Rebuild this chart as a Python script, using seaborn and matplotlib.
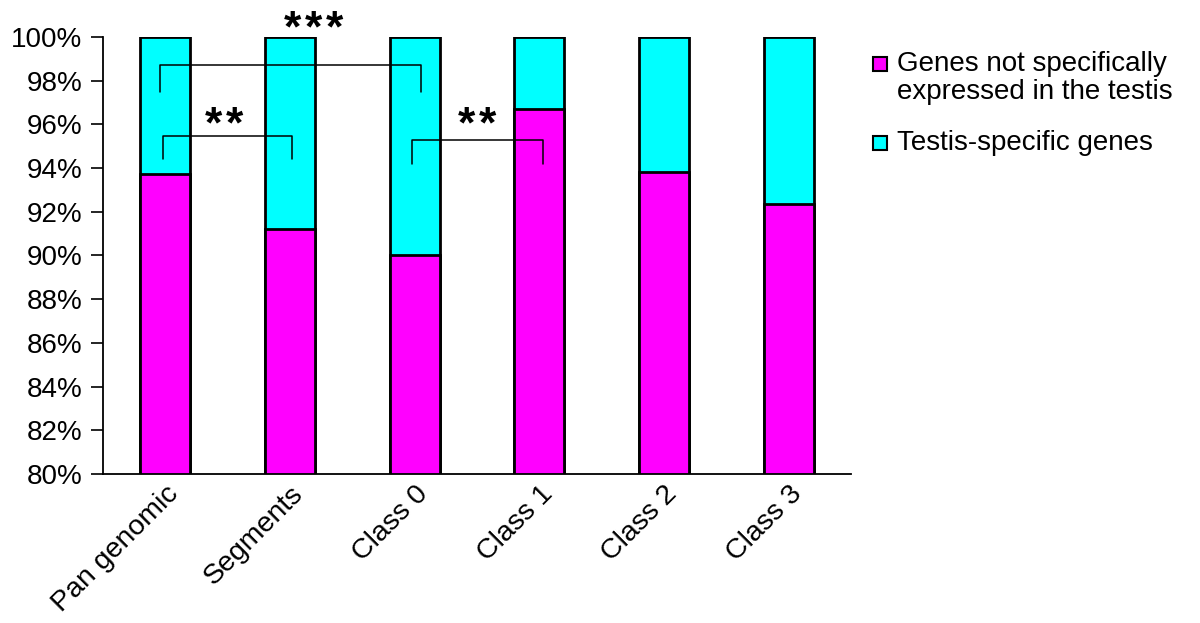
import matplotlib
matplotlib.use("Agg")
import matplotlib.pyplot as plt
from matplotlib.patches import Rectangle
import seaborn as sns
import pandas as pd

# values (percent of genes)
categories = ["Pan genomic", "Segments", "Class 0", "Class 1", "Class 2", "Class 3"]
not_specific = [93.75, 91.2, 90.0, 96.7, 93.8, 92.35]
testis_specific = [6.25, 8.8, 10.0, 3.3, 6.2, 7.65]
series_labels = ["Genes not specifically\nexpressed in the testis", "Testis-specific genes"]
y_ticks = [80, 82, 84, 86, 88, 90, 92, 94, 96, 98, 100]

# significance brackets: (x left, x right, top, leg bottom, n stars, star x, star y)
brackets = [
    (-0.04, 2.05, 98.7, 97.5, 3, 1.19, 99.8),
    (-0.02, 1.02, 95.47, 94.4, 2, 0.47, 95.4),
    (1.98, 3.03, 95.27, 94.2, 2, 2.5, 95.4),
]
STAR_STEP = 0.168  # spacing between stars, in category units

MAGENTA = "#FF00FF"
CYAN = "#00FFFF"

sns.set_style("white")
plt.rcParams["font.family"] = ["Liberation Sans", "DejaVu Sans"]
plt.rcParams["text.color"] = "black"
plt.rcParams["xtick.color"] = "black"
plt.rcParams["ytick.color"] = "black"

df = pd.DataFrame({"category": categories,
                   "not_specific": not_specific,
                   "testis_specific": testis_specific})
df["total"] = df["not_specific"] + df["testis_specific"]

fig = plt.figure(figsize=(12, 6.23), dpi=100)
ax = fig.add_axes([103 / 1200, 1 - 474 / 623, (851 - 103) / 1200, (474 - 37) / 623])

# full stack first (cyan), then bottom segment on top of it (magenta)
sns.barplot(data=df, x="category", y="total", color=CYAN, width=0.4,
            edgecolor="black", linewidth=2, saturation=1, ax=ax)
sns.barplot(data=df, x="category", y="not_specific", color=MAGENTA, width=0.4,
            edgecolor="black", linewidth=2, saturation=1, ax=ax)

ax.set_ylim(80, 100)
ax.set_xlim(-0.5, len(categories) - 0.5)
ax.set_yticks(y_ticks)
ax.set_yticklabels([f"{t}%" for t in y_ticks], fontsize=20)
ax.set_xticks(range(len(categories)))
ax.set_xticklabels(categories, fontsize=20.5, rotation=45, ha="right",
                   rotation_mode="anchor")
ax.tick_params(axis="x", which="major", length=0, pad=5)
ax.set_xticks([i - 0.5 for i in range(len(categories) + 1)], minor=True)
ax.tick_params(axis="x", which="minor", length=12, width=1.2, color="black",
               direction="out")
ax.tick_params(axis="y", length=9, width=1.2, color="black", direction="out",
               pad=6, left=True)
ax.set_xlabel("")
ax.set_ylabel("")

for side in ["top", "right"]:
    ax.spines[side].set_visible(False)
for side in ["left", "bottom"]:
    ax.spines[side].set_color("black")
    ax.spines[side].set_linewidth(1.3)

for x0, x1, top, bottom, n_stars, sx, sy in brackets:
    ax.plot([x0, x0, x1, x1], [bottom, top, top, bottom], color="black",
            linewidth=1.1, clip_on=False)
    first = sx - STAR_STEP * (n_stars - 1) / 2
    for k in range(n_stars):
        ax.text(first + k * STAR_STEP, sy, "*", ha="center", va="baseline",
                fontsize=32, fontweight="bold", clip_on=False)

# legend, with each square level with the first line of its label
legend_rows = [(MAGENTA, series_labels[0], 51), (CYAN, series_labels[1], 130)]
for colour, label, top_px in legend_rows:
    fig.patches.append(Rectangle((873 / 1200, 1 - (top_px + 20) / 623),
                                 14 / 1200, 14 / 623, transform=fig.transFigure,
                                 facecolor=colour, edgecolor="black",
                                 linewidth=1.5))
    fig.text(897 / 1200, 1 - top_px / 623, label, ha="left", va="top",
             fontsize=20, linespacing=1.12)

fig.savefig("out.png", dpi=100)
